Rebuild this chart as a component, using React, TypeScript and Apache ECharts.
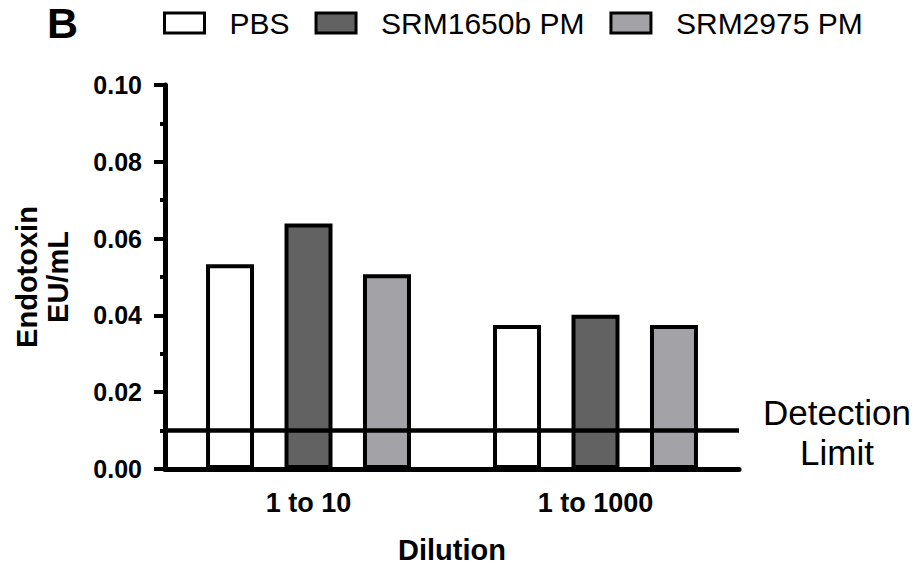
import React, { useEffect, useRef } from "react";
import * as echarts from "echarts";

const categories = ["1 to 10", "1 to 1000"];
const seriesNames = ["PBS", "SRM1650b PM", "SRM2975 PM"];
const pbsValues = [0.0533, 0.0375];
const srm1650bValues = [0.0639, 0.0402];
const srm2975Values = [0.0507, 0.0375];
const detectionLimit = 0.01;
const seriesColors = ["#ffffff", "#626262", "#a3a2a7"];

const FONT = '"Liberation Sans", Arial, sans-serif';

export default function App() {
  const ref = useRef<HTMLDivElement>(null);
  useEffect(() => {
    if (!ref.current) return;
    const chart = echarts.init(ref.current, undefined, { renderer: "svg" });
    const values = [pbsValues, srm1650bValues, srm2975Values];
    const series: any[] = seriesNames.map((name, i) => ({
      name,
      type: "bar",
      data: values[i],
      barWidth: 48,
      barGap: "63.5%",
      itemStyle: { color: seriesColors[i], borderColor: "#000", borderWidth: 4 },
      emphasis: { disabled: true },
    }));
    series[2].markLine = {
      silent: true,
      symbol: ["none", "none"],
      label: { show: false },
      lineStyle: { color: "#000", width: 4.5, type: "solid" },
      data: [{ yAxis: detectionLimit }],
    };
    chart.setOption({
      animation: false,
      textStyle: { fontFamily: FONT },
      grid: { left: 165, right: 182, top: 85, bottom: 99 },
      legend: {
        data: seriesNames,
        icon: "rect",
        left: 163,
        top: 8,
        padding: 0,
        itemWidth: 40,
        itemHeight: 20,
        itemGap: 25,
        itemStyle: { borderWidth: 3, borderColor: "#000" },
        textStyle: { fontSize: 30, color: "#000", fontFamily: FONT, padding: [0, 0, 0, 20] },
      },
      xAxis: {
        type: "category",
        data: categories,
        name: "Dilution",
        nameLocation: "middle",
        nameGap: 66,
        nameTextStyle: { fontSize: 29, fontWeight: "bold", color: "#000", fontFamily: FONT },
        axisLine: { lineStyle: { color: "#000", width: 5 } },
        axisTick: { alignWithLabel: true, length: 11, lineStyle: { color: "#000", width: 4 } },
        axisLabel: { fontSize: 27, fontWeight: "bold", color: "#000", margin: 20, fontFamily: FONT },
      },
      yAxis: {
        type: "value",
        min: 0,
        max: 0.1,
        interval: 0.02,
        name: "Endotoxin\nEU/mL",
        nameLocation: "middle",
        nameRotate: 90,
        nameGap: 92,
        nameTextStyle: { fontSize: 29, fontWeight: "bold", color: "#000", lineHeight: 31, fontFamily: FONT },
        splitLine: { show: false },
        axisLine: { show: true, lineStyle: { color: "#000", width: 5 } },
        axisTick: { show: true, length: 11, lineStyle: { color: "#000", width: 4 } },
        minorTick: { show: true, splitNumber: 2, length: 5, lineStyle: { color: "#000", width: 4 } },
        axisLabel: {
          fontSize: 25,
          fontWeight: "bold",
          color: "#000",
          margin: 23,
          fontFamily: FONT,
          formatter: (v: number) => v.toFixed(2),
        },
      },
      graphic: [
        {
          type: "text",
          x: 47,
          y: 23,
          style: {
            text: "B",
            font: `bold 43px ${FONT}`,
            fill: "#000",
            align: "left",
            verticalAlign: "middle",
            lineHeight: 38,
          },
        },
        {
          type: "text",
          x: 837,
          y: 432,
          style: {
            text: "Detection\nLimit",
            font: `35px ${FONT}`,
            fill: "#000",
            align: "center",
            verticalAlign: "middle",
            lineHeight: 40,
          },
        },
      ],
      series,
    });
    return () => chart.dispose();
  }, []);
  return (
    <div
      ref={ref}
      style={{ position: "fixed", left: 0, top: 0, width: 921, height: 569, background: "#fff" }}
    />
  );
}
